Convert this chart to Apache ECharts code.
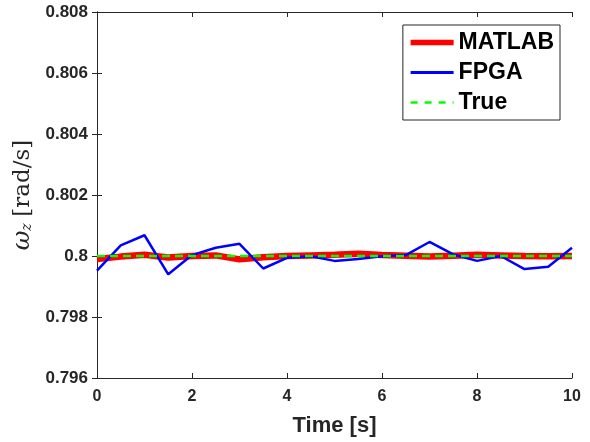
<!DOCTYPE html>
<html><head><meta charset="utf-8">
<script src="https://cdn.jsdelivr.net/npm/echarts@6/dist/echarts.min.js"></script>
<style>html,body{margin:0;padding:0;background:#fff}#c{width:590px;height:442px}</style>
</head><body><div id="c"></div>
<script>
const time = [0,0.5,1,1.5,2,2.5,3,3.5,4,4.5,5,5.5,6,6.5,7,7.5,8,8.5,9,9.5,10];
const matlab = [0.7999,0.79998,0.80004,0.79995,0.8,0.80002,0.79989,0.79996,0.8,0.80002,0.80004,0.80007,0.80003,0.80001,0.79998,0.80001,0.80004,0.80002,0.8,0.79999,0.8];
const fpga = [0.79952,0.80035,0.80068,0.7994,0.80003,0.80027,0.8004,0.79959,0.79994,0.79999,0.79984,0.7999,0.79999,0.80003,0.80046,0.80005,0.79984,0.8,0.79957,0.79965,0.80027];
const truth = [0.8,0.8,0.8,0.8,0.8,0.8,0.8,0.8,0.8,0.8,0.8,0.8,0.8,0.8,0.8,0.8,0.8,0.8,0.8,0.8,0.8];
const yTicks = ['0.796','0.798','0.8','0.802','0.804','0.806','0.808'];
const seriesNames = ['MATLAB','FPGA','True'];

const pair = a => time.map((t,i)=>[t,a[i]]);
const axColor = '#262626';
const sans = 'Liberation Sans, Arial, Helvetica';
const chart = echarts.init(document.getElementById('c'));
chart.setOption({
  animation:false,
  grid:{left:97,right:18,top:12,bottom:62,show:false},
  legend:{
    data:[
      {name:seriesNames[0], lineStyle:{width:5.5}},
      {name:seriesNames[1], lineStyle:{width:3}},
      {name:seriesNames[2], lineStyle:{width:2.5,type:[7,7]}}
    ],
    orient:'vertical', right:30, top:25,
    backgroundColor:'#fff', borderColor:'#262626', borderWidth:1, borderRadius:0,
    padding:[6,6,6,5], itemGap:7, itemWidth:43, itemHeight:14,
    itemStyle:{opacity:0},
    textStyle:{fontFamily:sans,fontWeight:'bold',fontSize:23,color:'#000'}
  },
  xAxis:[{
    type:'value', min:0, max:10, interval:2,
    name:'Time [s]', nameLocation:'middle', nameGap:37,
    nameTextStyle:{fontFamily:sans,fontWeight:'bold',fontSize:22,color:axColor},
    axisLine:{lineStyle:{color:axColor}},
    axisTick:{inside:true,length:5,lineStyle:{color:axColor}},
    axisLabel:{fontFamily:sans,fontWeight:'bold',fontSize:16,color:axColor,margin:11},
    splitLine:{show:false}
  },{
    type:'value', min:0, max:10, interval:2, position:'top',
    axisLine:{lineStyle:{color:axColor}},
    axisTick:{inside:true,length:5,lineStyle:{color:axColor}},
    axisLabel:{show:false}, splitLine:{show:false}
  }],
  yAxis:[{
    type:'value', min:0.796, max:0.808, interval:0.002,
    name:'{w|ω}{s|z}  {r|[rad/s]}', nameLocation:'middle', nameGap:53, nameRotate:90,
    nameTextStyle:{rich:{
      w:{fontFamily:'DejaVu Serif, Liberation Serif',fontStyle:'italic',fontSize:24,color:axColor},
      s:{fontFamily:'DejaVu Serif, Liberation Serif',fontStyle:'italic',fontSize:14,color:axColor,verticalAlign:'bottom',padding:[10,0,0,0]},
      r:{fontFamily:'DejaVu Serif, Liberation Serif',fontSize:23,color:axColor}
    }},
    axisLine:{show:true,lineStyle:{color:axColor}},
    axisTick:{show:true,inside:true,length:5,lineStyle:{color:axColor}},
    axisLabel:{fontFamily:sans,fontWeight:'bold',fontSize:17,color:axColor,margin:9,
      formatter:(v)=>{const i=Math.round((v-0.796)/0.002);return yTicks[i]!==undefined?yTicks[i]:'';}},
    splitLine:{show:false}
  },{
    type:'value', min:0.796, max:0.808, interval:0.002, position:'right',
    axisLine:{show:true,lineStyle:{color:axColor}},
    axisTick:{show:true,inside:true,length:5,lineStyle:{color:axColor}},
    axisLabel:{show:false}, splitLine:{show:false}
  }],
  series:[
    {name:'MATLAB',type:'line',data:pair(matlab),symbol:'none',lineStyle:{color:'#ff0000',width:6.5},itemStyle:{color:'#ff0000'},z:2},
    {name:'FPGA',type:'line',data:pair(fpga),symbol:'none',lineStyle:{color:'#0000ff',width:2.5},itemStyle:{color:'#0000ff'},z:3},
    {name:'True',type:'line',data:pair(truth),symbol:'none',lineStyle:{color:'#00ff00',width:2.5,type:[8,5]},itemStyle:{color:'#00ff00'},z:4}
  ]
});
</script></body></html>
